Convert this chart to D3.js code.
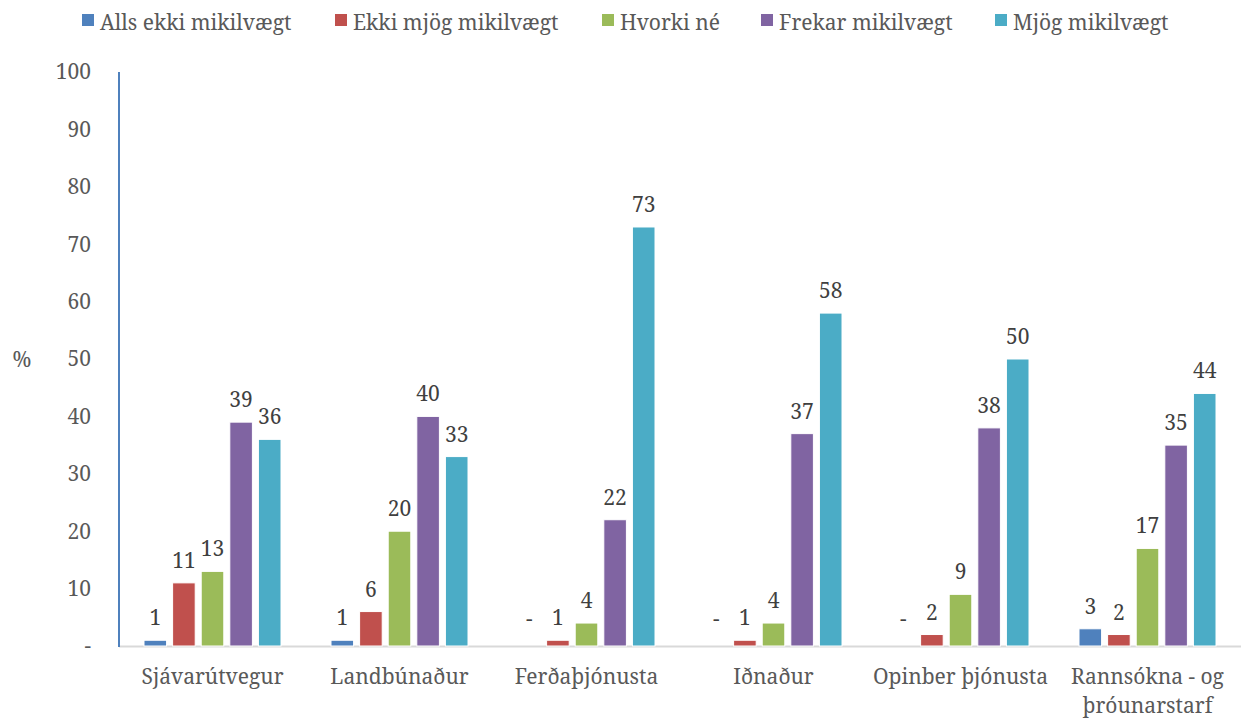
<!DOCTYPE html>
<html>
<head>
<meta charset="utf-8">
<script src="https://cdn.jsdelivr.net/npm/d3@7"></script>
</head>
<body style="margin:0; background:#fff">
<div class="chart"></div>
<script>
const categories = ["Sjávarútvegur", "Landbúnaður", "Ferðaþjónusta", "Iðnaður", "Opinber þjónusta", "Rannsókna - og þróunarstarf"];
const series = ["Alls ekki mikilvægt", "Ekki mjög mikilvægt", "Hvorki né", "Frekar mikilvægt", "Mjög mikilvægt"];
const colors = ["#4F81BD", "#C0504D", "#9BBB59", "#8064A2", "#4BACC6"];

const allsEkki    = [1, 1, 0, 0, 0, 3];
const ekkiMjog    = [11, 6, 1, 1, 2, 2];
const hvorkiNe    = [13, 20, 4, 4, 9, 17];
const frekar      = [39, 40, 22, 37, 38, 35];
const mjog        = [36, 33, 73, 58, 50, 44];
const yTicks = [0, 10, 20, 30, 40, 50, 60, 70, 80, 90, 100];

const values = [allsEkki, ekkiMjog, hvorkiNe, frekar, mjog];

const width = 1256, height = 719;
const margin = { top: 72, right: 15, bottom: 73, left: 119 };
const font = "Noto Serif";
const textColor = "#595959";

const svg = d3.select(".chart")
    .append("svg")
    .attr("width", width)
    .attr("height", height)
    .attr("font-family", font);

const x0 = d3.scaleBand()
    .domain(categories)
    .range([margin.left, width - margin.right]);

const x1 = d3.scaleBand()
    .domain(series)
    .range([25, x0.bandwidth() - 25])
    .paddingInner(0.21);

const y = d3.scaleLinear()
    .domain([0, 100])
    .range([height - margin.bottom, margin.top]);

// y tick labels
svg.append("g")
    .selectAll("text")
    .data(yTicks)
    .enter()
    .append("text")
    .attr("x", 91)
    .attr("y", d => y(d))
    .attr("dy", "0.35em")
    .attr("text-anchor", "end")
    .attr("font-family", font)
    .attr("font-size", 21)
    .attr("fill", textColor)
    .text(d => d === 0 ? "-" : d);

svg.append("text")
    .attr("x", 22)
    .attr("y", 360)
    .attr("dy", "0.35em")
    .attr("text-anchor", "middle")
    .attr("font-family", font)
    .attr("font-size", 21)
    .attr("fill", textColor)
    .text("%");

// x axis line
svg.append("line")
    .attr("x1", margin.left).attr("x2", width - margin.right)
    .attr("y1", y(0) + 0.5).attr("y2", y(0) + 0.5)
    .attr("stroke", "#D9D9D9")
    .attr("stroke-width", 2);

// y axis line
svg.append("line")
    .attr("x1", margin.left).attr("x2", margin.left)
    .attr("y1", y(100)).attr("y2", y(0) + 1)
    .attr("stroke", "#4F81BD")
    .attr("stroke-width", 2);

const groups = svg.append("g")
    .selectAll("g")
    .data(categories)
    .enter()
    .append("g")
    .attr("transform", d => "translate(" + x0(d) + ",0)");

groups.selectAll("rect")
    .data((c, i) => series.map((s, j) => ({ s: s, j: j, v: values[j][i] })))
    .enter()
    .append("rect")
    .attr("x", d => x1(d.s))
    .attr("y", d => y(d.v))
    .attr("width", x1.bandwidth())
    .attr("height", d => y(0) - y(d.v))
    .attr("fill", d => colors[d.j])
    .attr("stroke", "#fff")
    .attr("stroke-width", 1);

groups.selectAll("text.val")
    .data((c, i) => series.map((s, j) => ({ s: s, j: j, v: values[j][i] })))
    .enter()
    .append("text")
    .attr("class", "val")
    .attr("x", d => x1(d.s) + x1.bandwidth() / 2)
    .attr("y", d => y(d.v) - (d.v === 0 ? 20 : 15))
    .attr("text-anchor", "middle")
    .attr("font-family", font)
    .attr("font-size", 21)
    .attr("fill", "#404040")
    .text(d => d.v === 0 ? "-" : d.v);

// category labels
svg.append("g")
    .selectAll("text")
    .data(categories)
    .enter()
    .append("text")
    .attr("x", d => x0(d) + x0.bandwidth() / 2)
    .attr("y", 684)
    .attr("text-anchor", "middle")
    .attr("font-family", font)
    .attr("font-size", 21)
    .attr("fill", textColor)
    .each(function (d) {
        const lines = d === "Rannsókna - og þróunarstarf" ? ["Rannsókna - og", "þróunarstarf"] : [d];
        d3.select(this).selectAll("tspan")
            .data(lines)
            .enter()
            .append("tspan")
            .attr("x", x0(d) + x0.bandwidth() / 2)
            .attr("dy", (l, k) => k === 0 ? 0 : 29)
            .text(l => l);
    });

// legend
const legendX = [82, 335, 602, 761, 995];
const legend = svg.append("g")
    .selectAll("g")
    .data(series)
    .enter()
    .append("g")
    .attr("transform", (d, i) => "translate(" + legendX[i] + ",0)");

legend.append("rect")
    .attr("x", 0).attr("y", 14)
    .attr("width", 12).attr("height", 12)
    .attr("fill", (d, i) => colors[i]);

legend.append("text")
    .attr("x", 18)
    .attr("y", 30)
    .attr("font-family", font)
    .attr("font-size", 21)
    .attr("fill", textColor)
    .text(d => d);
</script>
</body>
</html>
